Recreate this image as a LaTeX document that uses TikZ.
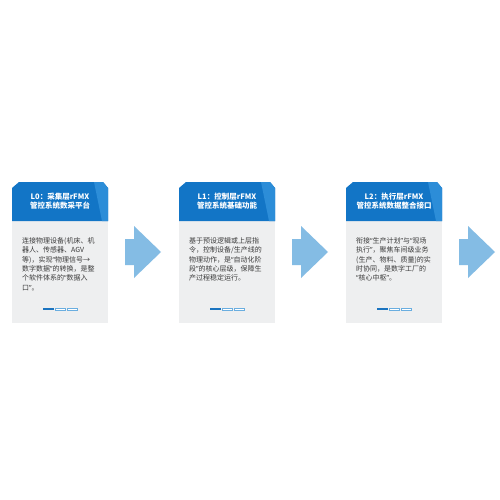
\documentclass[tikz,border=0pt]{standalone}
\usepackage{fontspec}
\setmainfont{Noto Sans CJK SC}
\newfontfamily\qfont{Noto Sans}
\XeTeXlinebreaklocale "zh"
\XeTeXlinebreakskip=0pt plus 3pt
\definecolor{hdrblue}{HTML}{1275C6}
\definecolor{hdrlight}{HTML}{2C8DD8}
\definecolor{bodygray}{HTML}{EEEFF0}
\definecolor{txtgray}{HTML}{3A3A3A}
\definecolor{arrowblue}{HTML}{84BCE4}
\definecolor{dashdark}{HTML}{1B74C0}
\definecolor{dashlight}{HTML}{6AAEE0}
\newcommand{\qo}{{\qfont “}}
\newcommand{\qc}{{\qfont ”}}
\newcommand{\jl}[1]{\leavevmode\hbox to 76pt{#1}}
\newcommand{\lastl}[1]{\leavevmode\hbox{#1}}
\tikzset{
  hdrtext/.style={text=white, align=center, font=\fontsize{7.5}{9}\selectfont\bfseries, inner sep=0pt},
  bodytext/.style={text=txtgray, align=left, text width=76pt, font=\fontsize{7}{9.3}\selectfont, inner sep=0pt, anchor=north west},
  bigarrow/.style={fill=arrowblue, draw=none},
  dashon/.style={fill=dashdark, draw=none},
  dashoff/.style={draw=dashlight, line width=0.6pt, fill=white},
}
\newcommand{\card}[4]{%
  % #1 left x, #2 name, #3 title, #4 body
  \fill[bodygray] (#1,221) rectangle ++(96,102);
  \fill[hdrblue] (#1,188) -- ++(7,-6) -- ++(84,0) -- ++(5,6) -- ++(0,33) -- ++(-96,0) -- cycle;
  \fill[hdrlight] ($(#1,182)+(82,0)$) -- ++(9,0) -- ++(5,6) -- ++(0,33) -- ++(-6,0) -- cycle;
  \node[hdrtext] (h#2) at ($(#1,201.5)+(48,0)$) {#3};
  \node[bodytext] (b#2) at ($(#1,237.5)+(10,0)$) {#4};
  \fill[dashon] ($(#1,308)+(31,0)$) rectangle ++(10.5,2.4);
  \draw[dashoff] ($(#1,308.2)+(43,0)$) rectangle ++(10,2);
  \draw[dashoff] ($(#1,308.2)+(55,0)$) rectangle ++(10,2);
  \fill[bigarrow] ($(#1,239)+(113,0)$) -- ++(9,0) -- ++(0,-13) -- ++(27,26) -- ++(-27,26) -- ++(0,-13) -- ++(-9,0) -- cycle;
}
\usetikzlibrary{calc}
\begin{document}
\begin{tikzpicture}[x=1pt,y=-1pt]
\useasboundingbox (0,0) rectangle (500,500);
\fill[white] (0,0) rectangle (500,500);
\card{12}{1}{L0：采集层rFMX\\管控系统数采平台}{\jl{连接物理设备(机床、机}\\\jl{器人、传感器、AGV}\\\jl{等)，实现\qo 物理信号→}\\\jl{数字数据\qc 的转换，是整}\\\jl{个软件体系的\qo 数据入}\\\lastl{口\qc 。}}
\card{179}{2}{L1：控制层rFMX\\管控系统基础功能}{\jl{基于预设逻辑或上层指}\\\jl{令，控制设备/生产线的}\\\jl{物理动作，是\qo 自动化阶}\\\jl{段\qc 的核心层级，保障生}\\\lastl{产过程稳定运行。}}
\card{346}{3}{L2：执行层rFMX\\管控系统数据整合接口}{\jl{衔接\qo 生产计划\qc 与\qo 现场}\\\jl{执行\qc ，聚焦车间级业务}\\\jl{(生产、物料、质量)的实}\\\jl{时协同，是数字工厂的}\\\lastl{\qo 核心中枢\qc 。}}
\end{tikzpicture}
\end{document}
